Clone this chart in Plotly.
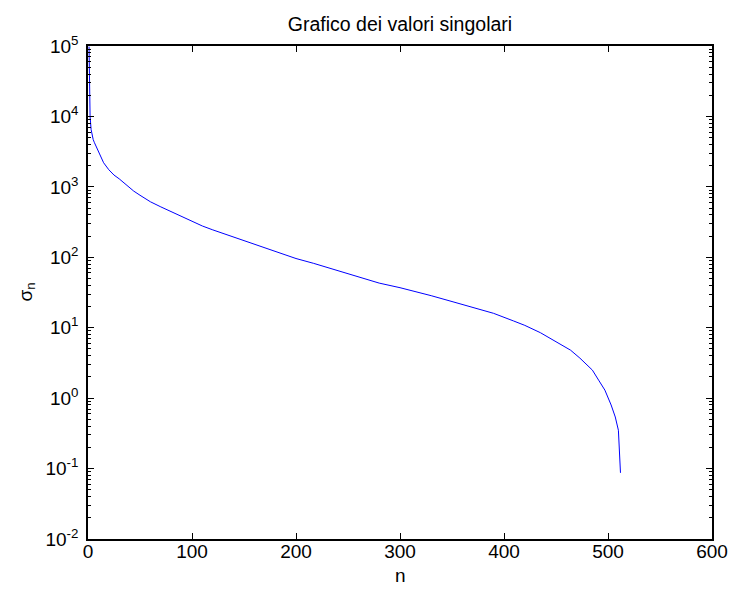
import plotly.graph_objects as go

# Singular values (index n, value sigma_n)
n_vals = [1, 2, 3, 4, 5, 6, 8, 10, 12, 15, 20, 25, 30, 35, 40, 44, 50, 60, 70, 80,
          90, 100, 110, 120, 135, 153, 170, 185, 200, 217, 230, 250, 265, 280, 300,
          313, 330, 351, 370, 390, 409, 420, 435, 444, 455, 464, 473, 480, 485, 491,
          497, 503, 507, 510, 511, 512]
sigma_vals = [98000, 10000, 6500, 5300, 4700, 4300, 3700, 3100, 2600, 2200, 1750,
              1470, 1300, 1120, 970, 870, 760, 614, 520, 445, 375, 318, 278, 245,
              205, 166, 137, 112, 96, 82, 72, 59, 50, 43, 37, 33.4, 28.5, 23.3, 19.5,
              16, 12.5, 10.8, 8.5, 7.1, 5.8, 4.8, 3.7, 2.95, 2.5, 1.8, 1.3, 0.8, 0.54,
              0.35, 0.2, 0.087]

x_ticks = [0, 100, 200, 300, 400, 500, 600]
y_exponents = [-2, -1, 0, 1, 2, 3, 4, 5]
y_tickvals = [10.0 ** e for e in y_exponents]
y_ticktext = ["10<sup>%d</sup>" % e for e in y_exponents]
minor_vals = [m * 10.0 ** e for e in y_exponents[:-1] for m in range(2, 10)]

FONT = "Liberation Sans, Arial, Helvetica, sans-serif"
TICK_SIZE = 19
TITLE_SIZE = 19.5

fig = go.Figure()
fig.add_trace(go.Scatter(
    x=n_vals, y=sigma_vals, mode="lines",
    line=dict(color="#0000ff", width=1),
    showlegend=False, hoverinfo="skip",
))

fig.update_layout(
    width=731, height=592,
    margin=dict(l=88, r=19, t=46, b=53),
    paper_bgcolor="white", plot_bgcolor="white",
    font=dict(family=FONT, size=TICK_SIZE, color="black"),
    title=dict(text="Grafico dei valori singolari", x=0.5, xref="paper",
               xanchor="center", y=1 - 24 / 592, yanchor="middle",
               font=dict(family=FONT, size=TITLE_SIZE, color="black")),
    annotations=[
        dict(text="n", xref="paper", yref="paper", x=0.5, y=0,
             xanchor="center", yanchor="middle", yshift=-36, showarrow=False,
             font=dict(family=FONT, size=TICK_SIZE, color="black")),
        dict(text="σ<sub>n</sub>", xref="paper", yref="paper", x=0, y=0.5,
             xanchor="center", yanchor="middle", xshift=-62, textangle=-90,
             showarrow=False,
             font=dict(family=FONT, size=TICK_SIZE, color="black")),
    ],
)

fig.update_xaxes(
    range=[0, 600], tickmode="array", tickvals=x_ticks,
    ticks="inside", ticklen=6, tickwidth=1, tickcolor="black",
    showline=True, linecolor="black", linewidth=1.5, mirror="allticks",
    showgrid=False, zeroline=False, automargin=False,
    tickfont=dict(family=FONT, size=TICK_SIZE, color="black"),
    ticklabelstandoff=-6,
)

fig.update_yaxes(
    type="log", range=[-2, 5], tickmode="array", tickvals=y_tickvals,
    ticktext=y_ticktext,
    ticks="inside", ticklen=6, tickwidth=1, tickcolor="black",
    minor=dict(tickmode="array", tickvals=minor_vals, ticks="inside",
               ticklen=3, tickwidth=1, tickcolor="black", showgrid=False),
    showline=True, linecolor="black", linewidth=1.5, mirror="allticks",
    showgrid=False, zeroline=False, automargin=False,
    tickfont=dict(family=FONT, size=TICK_SIZE, color="black"),
    ticklabelstandoff=4,
)

fig.write_html("out.html")
